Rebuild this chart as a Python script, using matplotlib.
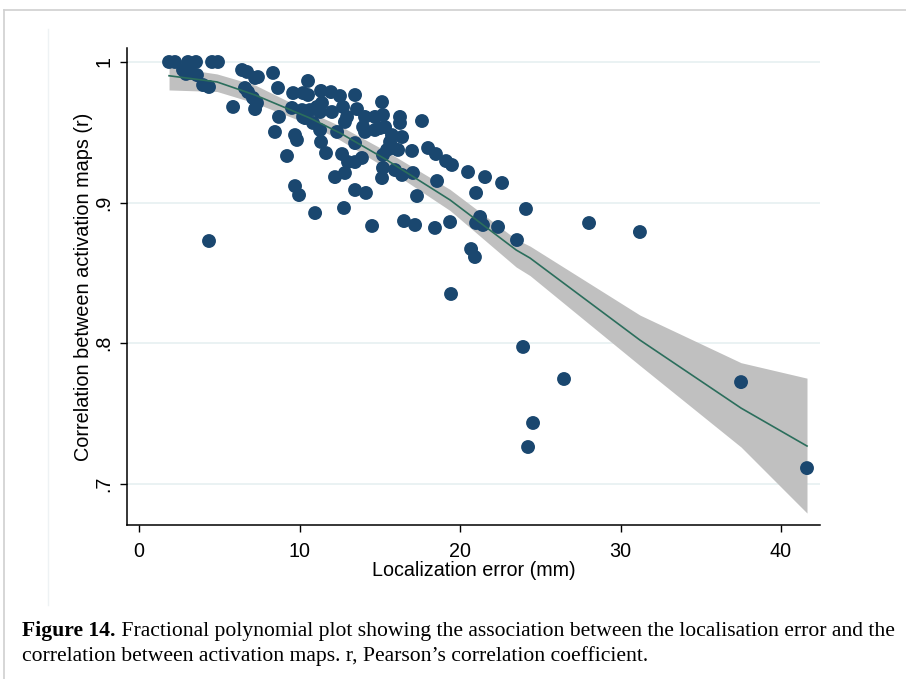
import matplotlib
matplotlib.use("Agg")
import matplotlib.pyplot as plt
from matplotlib.lines import Line2D
import numpy as np

# Scatter data: localization error (mm) vs correlation between activation maps (r)
loc_error = [1.87, 2.24, 3.05, 3.55, 4.55, 4.92, 2.74, 3.05, 3.24, 3.61, 2.93, 3.99, 4.36,
             5.86, 4.36, 6.42, 6.73, 7.23, 7.41, 8.35, 6.60, 6.79, 7.10, 7.35, 7.23, 8.66,
             8.72, 8.47, 9.72, 9.84, 9.22, 9.60, 10.22, 10.53, 9.53, 10.16, 10.22, 10.65,
             11.09, 11.40, 11.28, 10.53, 11.34, 11.96, 12.52, 13.46, 12.02, 12.71, 12.96,
             12.83, 13.58, 10.34, 10.84, 11.28, 12.34, 11.34, 11.65, 12.65, 13.02, 13.46,
             13.89, 12.21, 12.83, 9.72, 9.97, 13.46, 14.14, 10.97, 12.77, 14.08, 14.70,
             15.02, 15.14, 15.20, 15.20, 16.26, 16.26, 17.63, 13.96, 14.08, 14.70, 15.33,
             15.76, 16.39, 15.64, 15.45, 15.83, 16.14, 13.46, 17.01, 18.01, 18.50, 19.13,
             19.50, 15.20, 15.95, 16.39, 17.07, 15.14, 18.57, 17.32, 14.52, 16.51, 17.20,
             18.44, 19.38, 20.50, 21.56, 22.62, 21.00, 24.11, 21.00, 21.25, 21.43, 22.37,
             23.55, 20.69, 20.93, 19.44, 23.93, 26.48, 24.55, 24.24, 28.04, 31.21, 37.51,
             41.62]
corr_r = [1.000, 1.000, 1.000, 1.000, 1.000, 1.000, 0.9943, 0.9964, 0.9922, 0.9907, 0.9915,
          0.9836, 0.9822, 0.9680, 0.8726, 0.9943, 0.9929, 0.9886, 0.9893, 0.9922, 0.9815,
          0.9786, 0.9744, 0.9708, 0.9665, 0.9815, 0.9609, 0.9502, 0.9480, 0.9445, 0.9331,
          0.9779, 0.9779, 0.9865, 0.9673, 0.9658, 0.9609, 0.9658, 0.9680, 0.9708, 0.9644,
          0.9765, 0.9794, 0.9786, 0.9758, 0.9765, 0.9644, 0.9680, 0.9609, 0.9573, 0.9665,
          0.9601, 0.9566, 0.9516, 0.9502, 0.9431, 0.9352, 0.9345, 0.9288, 0.9288, 0.9317,
          0.9181, 0.9210, 0.9117, 0.9053, 0.9089, 0.9068, 0.8925, 0.8961, 0.9609, 0.9609,
          0.9530, 0.9715, 0.9338, 0.9623, 0.9609, 0.9566, 0.9580, 0.9537, 0.9502, 0.9516,
          0.9537, 0.9480, 0.9466, 0.9431, 0.9374, 0.9388, 0.9374, 0.9423, 0.9367, 0.9388,
          0.9345, 0.9295, 0.9267, 0.9246, 0.9231, 0.9196, 0.9210, 0.9174, 0.9153, 0.9046,
          0.8833, 0.8868, 0.8840, 0.8819, 0.8861, 0.9217, 0.9181, 0.9139, 0.9068, 0.8954,
          0.8854, 0.8897, 0.8840, 0.8826, 0.8733, 0.8669, 0.8612, 0.8349, 0.7972, 0.7744,
          0.7431, 0.7260, 0.8854, 0.8790, 0.7722, 0.7110]

# Fractional polynomial fit with 95% CI
fit_x = [1.87, 4.86, 7.23, 10.65, 12.52, 15.33, 19.38, 23.5, 24.36, 31.21, 37.51, 41.62]
fit_y = [0.9902, 0.9858, 0.9765, 0.9601, 0.9495, 0.9310, 0.9018, 0.8662, 0.8605, 0.8021, 0.7537, 0.7267]
fit_hi = [0.9966, 0.9915, 0.9836, 0.9644, 0.9545, 0.9370, 0.9093, 0.8738, 0.8690, 0.8199, 0.7860, 0.7750]
fit_lo = [0.9801, 0.9790, 0.9708, 0.9555, 0.9445, 0.9250, 0.8943, 0.8541, 0.8480, 0.7840, 0.7260, 0.6790]

x_ticks = [0, 10, 20, 30, 40]
y_ticks = [0.7, 0.8, 0.9, 1.0]
y_ticklabels = [".7", ".8", ".9", "1"]
x_label = "Localization error (mm)"
y_label = "Correlation between activation maps (r)"
caption_bold = "Figure 14."
caption_rest1 = " Fractional polynomial plot showing the association between the localisation error and the"
caption_line2 = "correlation between activation maps. r, Pearson\u2019s correlation coefficient."

W, H = 906, 679
fig = plt.figure(figsize=(W / 100, H / 100), dpi=100)
fig.patch.set_facecolor("white")

# Decorative frame lines
fig.add_artist(Line2D([4 / W, 1.0], [1 - 10 / H, 1 - 10 / H], color="#d0d0d0", lw=1.2))
fig.add_artist(Line2D([4 / W, 4 / W], [1 - 10 / H, 0.0], color="#d0d0d0", lw=1.2))
fig.add_artist(Line2D([48 / W, 48 / W], [1 - 29 / H, 1 - 605 / H], color="#eef2f4", lw=1.0))

ax = fig.add_axes([127 / W, 1 - 525 / H, (820 - 127) / W, (525 - 48) / H])
ax.set_xlim(-0.75, 42.43)
ax.set_ylim(0.6705, 1.00996)

for yv in y_ticks:
    ax.axhline(yv, color="#eaf2f3", lw=1.4, zorder=0)

ax.fill_between(fit_x, fit_lo, fit_hi, color="#c0c0c0", lw=0, zorder=1)
ax.scatter(loc_error, corr_r, s=100, color="#1a476f", edgecolors="none", zorder=3)
ax.plot(fit_x, fit_y, color="#2b6e5c", lw=1.2, zorder=4)

for side in ["top", "right"]:
    ax.spines[side].set_visible(False)
for side in ["left", "bottom"]:
    ax.spines[side].set_linewidth(1.1)
    ax.spines[side].set_color("black")

lab_size = 14.2
ax.set_xticks(x_ticks)
ax.set_xticklabels([str(v) for v in x_ticks])
ax.set_yticks(y_ticks)
ax.set_yticklabels(y_ticklabels, rotation=90, va="center")
ax.tick_params(axis="both", direction="out", length=5, width=1.0, labelsize=lab_size)
ax.tick_params(axis="x", pad=7)
ax.tick_params(axis="y", pad=5)
for lbl in ax.get_xticklabels() + ax.get_yticklabels():
    lbl.set_fontfamily("Liberation Sans")

ax.set_xlabel(x_label, fontsize=lab_size, fontfamily="Liberation Sans", labelpad=0)
ax.set_ylabel(y_label, fontsize=14.3, fontfamily="Liberation Sans", labelpad=1)

# Caption
cap_size = 15.6
t1 = fig.text(22 / W, 1 - 636 / H, caption_bold, fontsize=cap_size, fontweight="bold",
              fontfamily="Liberation Serif", va="baseline", ha="left")
fig.canvas.draw()
bb = t1.get_window_extent()
fig.text(bb.x1 / W, 1 - 636 / H, caption_rest1, fontsize=cap_size,
         fontfamily="Liberation Serif", va="baseline", ha="left")
fig.text(22 / W, 1 - 661 / H, caption_line2, fontsize=cap_size,
         fontfamily="Liberation Serif", va="baseline", ha="left")

fig.savefig("out.png", dpi=100, facecolor="white")
